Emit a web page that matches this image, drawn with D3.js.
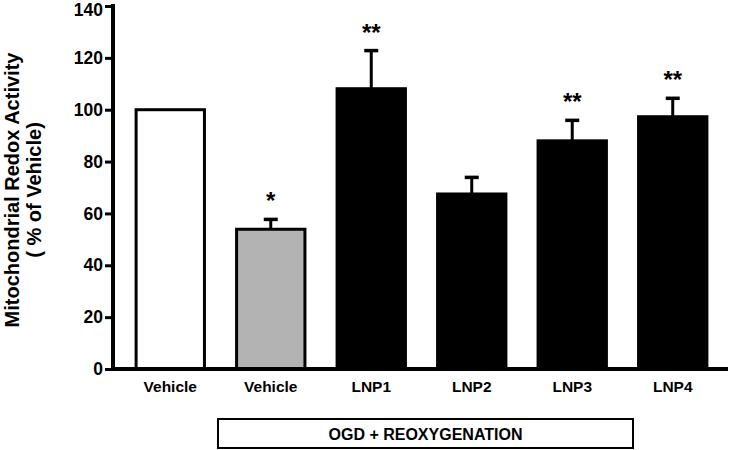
<!DOCTYPE html>
<html><head><meta charset="utf-8">
<script src="https://cdn.jsdelivr.net/npm/d3@7"></script>
<style>body{margin:0;background:#fff}svg{display:block}text{font-family:"Liberation Sans",Arial,sans-serif;font-weight:bold}</style>
</head><body><svg id="c" width="730" height="450"></svg>
<script>
const categories = ["Vehicle", "Vehicle ", "LNP1", "LNP2", "LNP3", "LNP4"];
const tickLabels = ["Vehicle", "Vehicle", "LNP1", "LNP2", "LNP3", "LNP4"];
const values = [100, 53.9, 108.1, 67.5, 88.0, 97.3];
const errors = [0, 3.8, 14.7, 6.4, 7.9, 7.1];
const stars = ["", "*", "**", "", "**", "**"];
const fills = ["#ffffff", "#b3b3b3", "#000000", "#000000", "#000000", "#000000"];
const yTicks = [0, 20, 40, 60, 80, 100, 120, 140];

const svg = d3.select("#c");
const y = d3.scaleLinear().domain([0, 140]).range([369, 6]);
const x = d3.scaleBand().domain(categories).range([115, 728]).paddingInner(0.3).paddingOuter(0.2);

// bars
svg.selectAll("rect.bar").data(values).enter().append("rect")
  .attr("x", (d,i) => x(categories[i]) + 1)
  .attr("width", x.bandwidth() - 2)
  .attr("y", d => y(d))
  .attr("height", d => y(0) - y(d))
  .attr("fill", (d,i) => fills[i])
  .attr("stroke", "#000").attr("stroke-width", 3);

// error bars
values.forEach((v,i) => {
  const cx = x(categories[i]) + x.bandwidth()/2;
  if (errors[i]) {
    svg.append("line").attr("x1", cx).attr("x2", cx).attr("y1", y(v)).attr("y2", y(v+errors[i]))
      .attr("stroke", "#000").attr("stroke-width", 3);
    svg.append("line").attr("x1", cx-7).attr("x2", cx+7).attr("y1", y(v+errors[i])).attr("y2", y(v+errors[i]))
      .attr("stroke", "#000").attr("stroke-width", 3.5);
  }
  if (stars[i]) svg.append("text").attr("x", cx).attr("y", y(v+errors[i]) - 10)
    .attr("text-anchor", "middle").attr("font-size", 24).text(stars[i]);
});

// y axis
const yAxis = d3.axisLeft(y).tickValues(yTicks).tickSize(8).tickPadding(2).tickSizeOuter(0);
const ga = svg.append("g").attr("transform", "translate(113,0)").call(yAxis);
ga.select(".domain").attr("stroke-width", 4).attr("d", "M0,4V369");
ga.selectAll(".tick line").attr("stroke-width", 3);
ga.selectAll(".tick text").attr("font-size", 17.5).attr("fill", "#000").style("font-family", "Liberation Sans, Arial").style("font-weight", "bold")
  .attr("dy", d => d === 140 ? "0.55em" : "0.32em");

// x axis
const xAxis = d3.axisBottom(x).tickSize(0).tickPadding(12).tickFormat((d,i) => tickLabels[i]);
const gx = svg.append("g").attr("transform", "translate(0,369)").call(xAxis);
gx.select(".domain").attr("stroke-width", 4).attr("d", "M111,0H728");
gx.selectAll(".tick text").attr("font-size", 15.5).attr("fill", "#000").style("font-family", "Liberation Sans, Arial").style("font-weight", "bold");

// y title
const yt = svg.append("text").attr("transform", "translate(0,190) rotate(-90)").attr("text-anchor", "middle").attr("font-size", 20);
yt.append("tspan").attr("x", 0).attr("y", 19).text("Mitochondrial Redox Activity");
yt.append("tspan").attr("x", 0).attr("y", 41).text("( % of Vehicle)");

// group box
svg.append("rect").attr("x", 218).attr("y", 419).attr("width", 415).attr("height", 29)
  .attr("fill", "#fff").attr("stroke", "#000").attr("stroke-width", 2);
svg.append("text").attr("x", 425.5).attr("y", 439.5).attr("text-anchor", "middle").attr("font-size", 16).text("OGD + REOXYGENATION");
</script></body></html>
